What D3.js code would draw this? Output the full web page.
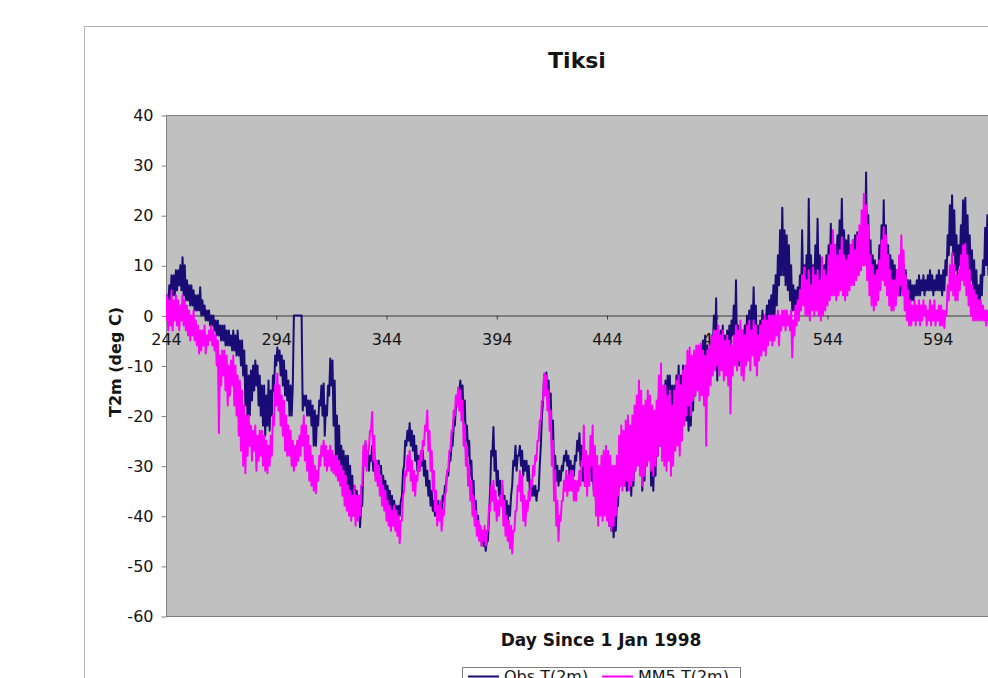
<!DOCTYPE html>
<html>
<head>
<meta charset="utf-8">
<script src="https://d3js.org/d3.v7.min.js"></script>
<style>
  body { margin: 0; background: #fff; }
  text { font-family: "DejaVu Sans", Verdana, sans-serif; fill: #151515; }
</style>
</head>
<body>
<div id="chart"></div>
<script>
// daily low / high of each series, one value per day starting at firstDay
var firstDay = 244;

var obsLo = [
  1, 2, 3, 4, 4, 5, 6, 5, 4, 3,
  3, 2, 2, 1, 1, 1, 0, 0, -1, -1,
  -2, -2, -3, -4, -4, -5, -5, -6, -6, -6,
  -7, -7, -8, -8, -10, -12, -18, -21, -20, -17,
  -15, -14, -18, -20, -22, -24, -22, -23, -20, -15,
  -10, -9, -12, -14, -16, -17, -20, -20, 0, 0,
  0, 0, -19, -18, -20, -20, -22, -26, -26, -22,
  -18, -20, -24, -20, -16, -14, -22, -28, -30, -32,
  -34, -36, -34, -36, -38, -40, -40, -40, -42.3, -38,
  -29, -30, -31, -29, -31, -32, -32, -33, -35, -36,
  -37, -38, -39, -40, -41, -40, -40, -36, -30, -26,
  -25, -26, -27, -29, -31, -31, -30, -32, -34, -36,
  -38, -39, -40, -39, -40, -39, -37, -34, -32, -29,
  -26, -22, -18, -15, -17, -21, -25, -28, -32, -36,
  -40, -42, -44, -45, -46, -47, -45, -35, -28, -31,
  -34, -36, -37, -39, -40, -41, -40, -34, -30, -31,
  -28, -30, -32, -31, -33, -35, -36, -36, -37, -35,
  -26, -17, -14, -16, -19, -26, -31, -33, -34, -33,
  -31, -29, -30, -32, -33, -32, -29, -27, -30, -33,
  -34, -33, -31, -33, -35, -37, -39, -38, -36, -37,
  -40, -42, -43, -44.3, -43, -38, -34, -33, -34, -35,
  -33, -36, -34, -30, -28, -30, -35, -33, -30, -28,
  -34, -35, -32, -28, -26, -28, -24, -22, -20, -24,
  -22, -20, -18, -20, -18, -20, -21, -23, -22, -19,
  -16, -14, -12, -10, -9, -10, -12, -10, -6, -8,
  -13, -10, -8, -10, -9, -8, -6, -4, -6, -8,
  -10, -9, -7, -6, -5, -5, -4, -6, -8, -6,
  -4, -3, -2, -2, -1, 0, 0, 2, 6, 8,
  8, 6, 5, 3, 1, 1, 1, 2, 3, 3,
  4, 5, 5, 4, 5, 6, 6, 5, 5, 6,
  7, 8, 8, 9, 10, 10, 11, 10, 9, 9,
  8, 9, 10, 9, 8, 9, 10, 11, 10, 8,
  7, 6, 6, 7, 8, 9, 8, 7, 6, 6,
  5, 4, 4, 4, 5, 4, 3, 3, 3, 3,
  4, 4, 4, 5, 4, 5, 5, 5, 4, 5,
  5, 5, 4, 5, 8, 12, 14, 12, 9, 8,
  10, 12, 14, 12, 9, 7, 5, 3, 1, 2,
  4, 8, 10, 8, 6, 5, 4
];
var obsHi = [
  4, 6, 8, 8, 9, 9, 10, 11.6, 10, 7,
  6, 6, 5, 4, 4, 5.6, 3, 2, 1, 1,
  0, 0, -1, -1, -2, -2, -2, -3, -3, -4,
  -3, -4, -3, -5, -5, -7, -10, -12, -11, -10,
  -9, -10, -12, -14, -14, -16, -13, -15, -12, -8,
  -6.4, -7, -8, -9, -11, -13, -14, -14, 0, 0,
  0, 0, -16, -16, -17, -17, -18, -19, -20, -17,
  -14, -13.6, -18, -14, -8.6, -9, -13, -20, -22, -26,
  -27, -28, -28, -30, -32, -34, -35, -36, -38, -30,
  -25.5, -27, -28, -26, -28, -29, -29, -30, -32, -33,
  -34, -35, -36, -37, -38, -38, -37, -31, -25, -23,
  -21.5, -23, -24, -26, -28, -28, -27, -29, -31, -33,
  -35, -37, -38, -37, -38, -36, -34, -31, -29, -26,
  -22, -18, -15, -13, -14, -17, -22, -25, -29, -33,
  -37, -40, -42, -43, -44, -45, -40, -27, -22.3, -27,
  -31, -33, -34, -36, -37, -38, -36, -29, -26, -28,
  -26, -27, -29, -29, -30, -33, -34, -34, -35, -30,
  -20, -12, -11.4, -13, -15.6, -21, -28, -30, -31, -30,
  -28, -27, -28, -29, -30, -28, -25, -23.5, -26, -30,
  -31, -30, -28, -30, -32, -34, -35, -34, -32, -33,
  -34, -36, -38, -40, -37, -30, -26, -25, -26, -27,
  -24, -28, -25, -22, -18, -20, -26, -24, -20, -18,
  -24, -26, -22, -16, -13, -16, -13, -12, -12, -14,
  -14, -12, -10, -12, -10, -13, -15, -16, -15, -12,
  -10, -8, -6, -5, -4, -6, -7, -4, 0, 3.4,
  -4, -3, -2, -4, -3, -2, -1, 2, 7, -2,
  -4, -3, -2, 0, 1, 2, 5.6, 2, -2, -1,
  1, 0, 2, 3, 4, 6, 8, 12, 17, 21.5,
  17, 16, 14, 10, 6, 5, 5.6, 8, 17, 10,
  12, 23.3, 12, 10, 14, 19.3, 12, 9, 10, 12,
  14, 18.3, 15, 14, 16, 19, 23.3, 17, 15, 16,
  14, 15, 16, 16.6, 14, 16, 18, 28.5, 20, 15,
  12, 11, 10, 14, 18, 23, 18, 14, 12, 11,
  10, 9, 9, 8, 10, 9, 7, 7, 6, 6,
  7, 8, 7, 8, 7, 8, 9, 8, 7, 8,
  9, 8, 9, 11, 16, 22, 24, 21, 16, 14,
  18, 23, 23.5, 20, 16, 13, 11, 9, 6, 8,
  11, 17.5, 20, 18, 14, 12, 10
];

var mm5Lo = [
  -1, -3, -2, -3, -1, -2, -3, -1, -2, -3,
  -4, -5, -4, -5, -6, -7.6, -7, -6, -7.6, -6,
  -5, -6, -7, -10, -23.5, -14, -12, -15, -18, -16,
  -14, -18, -20, -24, -27, -30, -31.5, -28, -26, -29,
  -27, -31, -29, -28, -30, -31, -31.5, -30, -28, -22,
  -18, -19, -22, -24, -27, -28, -28, -30, -31, -30,
  -29, -28, -26, -29, -31, -33, -34, -35, -35.5, -33,
  -30, -28, -30, -31, -30, -31, -31.5, -32, -33, -34,
  -36, -38, -39, -40, -41, -40, -42, -41, -40, -34,
  -30, -31, -27, -23, -29, -33, -34, -36, -38, -39,
  -41, -42, -43, -42, -43, -44, -45.5, -41, -35, -32,
  -31, -33, -35, -36, -33, -31, -29, -26, -23, -27,
  -31, -35, -39, -42, -41, -43, -40, -35, -31, -27,
  -23, -20, -18, -19, -21, -26, -30, -34, -37, -40,
  -42, -44, -45, -46, -45, -46, -43, -39, -37, -39,
  -41, -40, -38, -42, -44, -45, -46.5, -47.5, -43, -39,
  -35, -37, -41, -42, -39, -37, -34, -32, -29, -25,
  -21, -17, -16, -19, -23, -30, -37, -42, -45, -41,
  -37, -35, -36, -35, -35, -37, -37, -35, -34, -30,
  -34, -36, -34, -30, -36, -40, -42, -40, -41, -40,
  -41, -42, -43, -42, -40, -36, -34, -35, -34, -33,
  -35, -34, -33, -31, -30, -32, -34, -32, -30, -29,
  -31, -32, -30, -28, -26, -29, -30, -31, -29, -32,
  -30, -27, -26, -28, -25, -22, -20, -18, -20, -17,
  -16, -15, -17, -16, -18, -26, -16, -14, -12, -11,
  -10, -12, -11, -13, -12, -14, -19.6, -12, -10, -11,
  -9, -12, -13, -10, -9, -11, -8, -10, -12, -9,
  -8, -7, -8, -6, -5, -6, -5, -4, -6, -3,
  -2, -3, -2, -3, -8.4, -4, -2, -1, 1, 2,
  0, 0, -1, 1, 0, 1, 0, -1, 0, 1,
  2, 3, 4, 4, 3, 4, 5, 4, 3, 4,
  5, 6, 6, 7, 8, 9, 10, 10, 7, 4,
  2, 1, 2, 3, 5, 7, 6, 4, 2, 1,
  1, 2, 4, 6, 4, 1, -1, -2, -2, -1,
  -2, -1, -2, -1, 0, -2, -1, -2, -1, -2,
  -1, -2, -2, -2.5, 0, 3, 5, 4, 3, 3,
  5, 7, 6, 4, 2, 0, -1, -1, -1, -1,
  -1, -1, -2, -1, -1, 0, 0
];
var mm5Hi = [
  4, 3, 5, 3, 4, 3, 2, 4, 3, 2,
  1, 0, 1, -1, -2, -3, -3, -2, -4, -3,
  -2, -3, -4, -5, -8, -7, -7, -8, -10, -9,
  -8, -10, -12, -13, -15, -18, -20, -20, -22, -23,
  -22, -24, -23, -23, -24, -25, -26, -24, -20, -14,
  -11.6, -14, -16, -17, -20, -22, -23, -25, -26, -25,
  -24, -22, -20, -22, -24, -26, -28, -30, -31, -28,
  -26, -25, -26, -27, -26, -27, -28, -28, -29, -30,
  -31, -32, -34, -35, -36, -34, -36, -36, -34, -26,
  -25, -27, -23, -19.3, -24, -29, -30, -32, -34, -35,
  -37, -38, -39, -38, -39, -40, -41, -36, -31, -28,
  -27, -29, -31, -32, -29, -27, -25, -22, -19, -23,
  -27, -31, -35, -38, -37, -39, -36, -31, -27, -23,
  -19, -16, -14.4, -15, -17, -22, -26, -30, -33, -36,
  -39, -41, -42, -43, -42, -43, -38, -34, -33, -35,
  -37, -36, -33, -37, -40, -41, -42, -43, -39, -34,
  -31, -32, -36, -37, -35, -33, -30, -28, -25, -21,
  -17, -11.6, -12, -15, -19, -25, -31, -37, -40, -37,
  -33, -31, -32, -31, -31, -33, -33, -31, -29, -22,
  -27, -28, -24, -22, -26, -28, -30, -28, -27, -26,
  -27, -28, -30, -30, -28, -24, -22, -23, -21, -20,
  -22, -20, -18, -16, -13, -15, -18, -17, -15, -16,
  -18, -19, -17, -12, -9.6, -14, -14, -16, -15, -18,
  -15, -13, -12, -14, -11, -10, -7, -6.4, -8, -7,
  -6, -6, -5.6, -7, -8, -7, -6, -4, -3, -3,
  -2, -4, -3, -5, -4, -5, -6, -4, -2, -3,
  -1, -3, -4, -2, -1, -3, -1, -2, -4, -2,
  -1, 0, -1, 0, 0, 0, 0, 1, 0, 1,
  1, 1, 0, 1, -1, 2, 3, 5, 8, 9.6,
  7, 9, 6, 9.6, 8, 9, 7, 11.6, 9, 8,
  12, 14, 17, 14, 12, 13, 15.6, 12, 11, 12,
  14, 15, 13, 16, 18, 21, 24.3, 22, 18, 12,
  10, 8, 9, 11, 15, 17.6, 16, 12, 9, 7,
  7, 9, 12, 16, 13, 8, 5, 3, 2, 3,
  2, 3, 2, 3, 2, 1, 3, 2, 3, 1,
  2, 2, 1, 1, 6, 10, 12.4, 10, 8, 9,
  12, 14, 14.3, 12, 9, 6, 5, 4, 3, 3,
  2, 1, 1, 2, 3, 4, 4
];

var yTicks = [40, 30, 20, 10, 0, -10, -20, -30, -40, -50, -60];
var xTicks = [244, 294, 344, 394, 444, 494, 544, 594];
var seriesNames = ["Obs T(2m)", "MM5 T(2m)"];
var seriesColors = ["#1a0c74", "#ff00ff"];

var W = 988, H = 678;
var svg = d3.select("#chart").append("svg")
    .attr("width", W)
    .attr("height", H);

var plot = { left: 166, top: 115, right: 1048, bottom: 616 };

var x = d3.scaleLinear().domain([244, 644]).range([plot.left, plot.right]);
var y = d3.scaleLinear().domain([-60, 40]).range([plot.bottom, plot.top]);

// plain hyphen for negatives, like the original
var fmt = function(d) { return String(d); };

// chart frame
svg.append("rect")
    .attr("x", 84.5).attr("y", 26.5)
    .attr("width", 1000).attr("height", 700)
    .attr("fill", "#fff")
    .attr("stroke", "#b4b4b4");

// title
svg.append("text")
    .attr("x", 577).attr("y", 68)
    .attr("text-anchor", "middle")
    .style("font-size", "22px")
    .style("font-weight", "bold")
    .text("Tiksi");

// plot area
svg.append("rect")
    .attr("x", plot.left + 0.5).attr("y", plot.top + 0.5)
    .attr("width", plot.right - plot.left).attr("height", plot.bottom - plot.top)
    .attr("fill", "#c0c0c0")
    .attr("stroke", "#808080");

svg.append("clipPath").attr("id", "clip")
  .append("rect")
    .attr("x", plot.left).attr("y", plot.top)
    .attr("width", plot.right - plot.left).attr("height", plot.bottom - plot.top);

// y axis
var yAxis = svg.append("g")
    .attr("transform", "translate(" + (plot.left + 0.5) + ",0.5)")
    .call(d3.axisLeft(y).tickValues(yTicks).tickFormat(fmt)
      .tickSize(5).tickSizeOuter(0).tickPadding(8));
yAxis.select(".domain").remove();
yAxis.selectAll("line").attr("stroke", "#808080");
yAxis.selectAll("text").style("font-size", "16px").attr("fill", "#151515");

// x axis, crossing at 0
var xAxis = svg.append("g")
    .attr("transform", "translate(0," + (Math.round(y(0)) + 0.5) + ")")
    .call(d3.axisBottom(x).tickValues(xTicks).tickFormat(fmt)
      .tickSize(4).tickSizeOuter(0).tickPadding(14));
xAxis.select(".domain").attr("stroke", "#3a3a3a");
xAxis.selectAll("line").attr("stroke", "#3a3a3a");
xAxis.selectAll("text").style("font-size", "16px").attr("fill", "#151515");

// series: low and high of each day, in turn
function dayPoints(lo, hi) {
  var pts = [];
  lo.forEach(function(v, i) {
    pts.push([firstDay + i, v]);
    pts.push([firstDay + i + 0.5, hi[i]]);
  });
  return pts;
}

var line = d3.line()
    .x(function(d) { return x(d[0]); })
    .y(function(d) { return y(d[1]); });

var lines = svg.append("g").attr("clip-path", "url(#clip)");
[[obsLo, obsHi], [mm5Lo, mm5Hi]].forEach(function(s, i) {
  lines.append("path")
      .datum(dayPoints(s[0], s[1]))
      .attr("d", line)
      .attr("fill", "none")
      .attr("stroke", seriesColors[i])
      .attr("stroke-width", 2)
      .attr("stroke-linejoin", "round");
});

// axis titles
svg.append("text")
    .attr("transform", "translate(121,362) rotate(-90)")
    .attr("text-anchor", "middle")
    .style("font-size", "16px")
    .style("font-weight", "bold")
    .text("T2m (deg C)");

svg.append("text")
    .attr("x", 601).attr("y", 646)
    .attr("text-anchor", "middle")
    .style("font-size", "17px")
    .style("font-weight", "bold")
    .text("Day Since 1 Jan 1998");

// legend (cut by the bottom edge, as in the original)
var legend = svg.append("g");
legend.append("rect")
    .attr("x", 462.5).attr("y", 667.5)
    .attr("width", 278).attr("height", 40)
    .attr("fill", "#fff")
    .attr("stroke", "#808080");
var legendX = [468, 602];
seriesNames.forEach(function(name, i) {
  legend.append("line")
      .attr("x1", legendX[i]).attr("x2", legendX[i] + 31)
      .attr("y1", 676.5).attr("y2", 676.5)
      .attr("stroke", seriesColors[i])
      .attr("stroke-width", 2);
  legend.append("text")
      .attr("x", legendX[i] + 36).attr("y", 682)
      .style("font-size", "16px")
      .text(name);
});
</script>
</body>
</html>
